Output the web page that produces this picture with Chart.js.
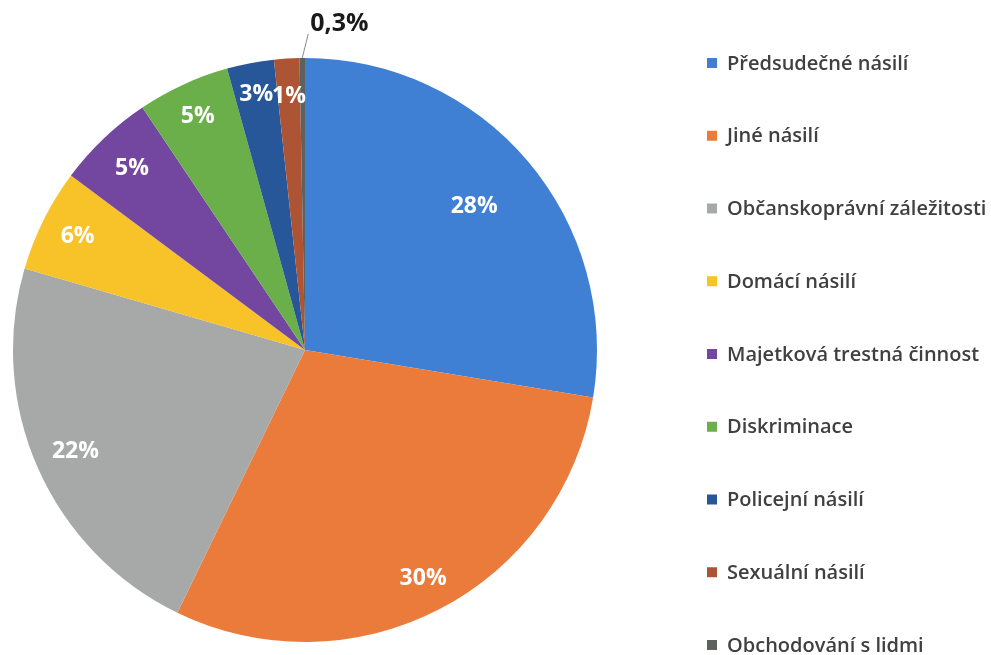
<!DOCTYPE html>
<html><head><meta charset="utf-8">
<script src="https://cdn.jsdelivr.net/npm/chart.js@4/dist/chart.umd.min.js"></script>
<style>html,body{margin:0;padding:0;background:#fff;overflow:hidden}</style>
</head><body>
<canvas id="c" width="991" height="655"></canvas>
<script>
// Categories (legend order)
const categories = [
  'Předsudečné násilí',
  'Jiné násilí',
  'Občanskoprávní záležitosti',
  'Domácí násilí',
  'Majetková trestná činnost',
  'Diskriminace',
  'Policejní násilí',
  'Sexuální násilí',
  'Obchodování s lidmi'
];
// Slice sizes (percent)
const sliceShares = [27.6, 29.6, 22.3, 5.7, 5.4, 5.1, 2.6, 1.4, 0.3];
// Labels printed on the slices
const labelTexts = ['28%', '30%', '22%', '6%', '5%', '5%', '3%', '1%', '0,3%'];

const colors = ['#3f7fd4', '#eb7b3a', '#a7a9a9', '#f8c229', '#7347a0', '#6aaf49', '#285799', '#ad5434', '#5e625e'];

const pieLabels = {
  id: 'pieLabels',
  afterDatasetsDraw(chart, args, opts) {
    const ctx = chart.ctx;
    const meta = chart.getDatasetMeta(0);
    ctx.save();
    ctx.textAlign = 'center';
    ctx.textBaseline = 'middle';
    meta.data.forEach((arc, i) => {
      const cx = arc.x, cy = arc.y, R = arc.outerRadius;
      const a = (arc.startAngle + arc.endAngle) / 2;
      if (i === meta.data.length - 1) {
        const sx = cx + Math.cos(a) * R, sy = cy + Math.sin(a) * R;
        const ex = sx + 6, ey = sy - 24;
        ctx.strokeStyle = '#8a8a8a';
        ctx.lineWidth = 1;
        ctx.beginPath(); ctx.moveTo(sx, sy); ctx.lineTo(ex, ey); ctx.stroke();
        ctx.fillStyle = '#1a1a1a';
        ctx.font = 'bold 25px "Open Sans"';
        ctx.textAlign = 'left';
        ctx.fillText(labelTexts[i], ex + 2, ey - 10);
        ctx.textAlign = 'center';
        return;
      }
      const f = opts.radiusFactors[i];
      const x = cx + Math.cos(a) * R * f;
      const y = cy + Math.sin(a) * R * f;
      ctx.fillStyle = '#ffffff';
      ctx.font = 'bold 23px "Open Sans"';
      ctx.fillText(labelTexts[i], x, y);
    });
    ctx.restore();
  }
};

const sideLegend = {
  id: 'sideLegend',
  afterDraw(chart, args, opts) {
    const ctx = chart.ctx;
    ctx.save();
    ctx.textAlign = 'left';
    ctx.textBaseline = 'middle';
    ctx.font = opts.font;
    categories.forEach((c, i) => {
      const y = opts.top + i * opts.step;
      ctx.fillStyle = colors[i];
      ctx.fillRect(opts.x, y - 5, 10, 10);
      ctx.fillStyle = '#404040';
      ctx.fillText(c, opts.x + 20, y + 1);
    });
    ctx.restore();
  }
};

function build() {
  new Chart(document.getElementById('c'), {
    type: 'pie',
    data: {
      labels: categories,
      datasets: [{
        data: sliceShares,
        backgroundColor: colors,
        borderWidth: 0,
        hoverOffset: 0
      }]
    },
    options: {
      responsive: false,
      animation: false,
      layout: { padding: { left: 13, right: 394, top: 58, bottom: 13 } },
      plugins: {
        legend: { display: false },
        tooltip: { enabled: false },
        pieLabels: { radiusFactors: [0.76, 0.88, 0.86, 0.87, 0.86, 0.88, 0.89, 0.87] },
        sideLegend: { x: 707, top: 63, step: 72.75, font: '600 20px "Open Sans"' }
      }
    },
    plugins: [pieLabels, sideLegend]
  });
}
Promise.all([
  document.fonts.load('600 20px "Open Sans"'),
  document.fonts.load('bold 23px "Open Sans"')
]).then(build, build);
</script>
</body></html>
